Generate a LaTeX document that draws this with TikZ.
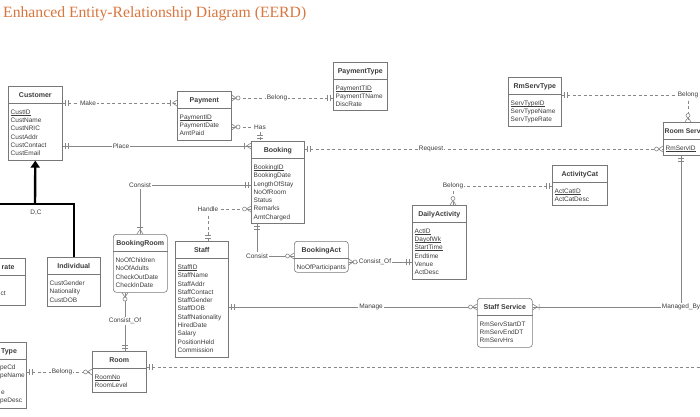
\documentclass[tikz,border=0pt]{standalone}
\usepackage{fontspec}
\setsansfont{Liberation Sans}
\newfontfamily\titlefont{Liberation Serif}
\usetikzlibrary{arrows.meta}

\definecolor{linegray}{RGB}{135,135,135}
\definecolor{boxgray}{RGB}{120,120,120}
\definecolor{textgray}{RGB}{60,60,60}
\definecolor{titleorange}{RGB}{217,118,62}

\newcommand{\attrfont}{\sffamily\fontsize{6.5}{8.3}\selectfont}
\newsavebox{\pkbox}
\newcommand{\pk}[1]{\sbox{\pkbox}{#1}\rlap{\rule[-1.1pt]{\wd\pkbox}{0.4pt}}\usebox{\pkbox}}
% [style]{name}{x,y of top left}{width}{height}{title}{attributes}
\newcommand{\entitybox}[7][entbox]{%
  \node[#1, minimum width=#4pt, minimum height=#5pt] (#2) at (#3) {};
  \draw[boxline] ([yshift=-17pt]#2.north west) -- ([yshift=-17pt]#2.north east);
  \node[enthead] (#2-head) at ([yshift=-11pt]#2.north) {#6};
  \node[entattr] (#2-attr) at ([xshift=2.5pt,yshift=-23.5pt]#2.north west) {#7};
}

\tikzset{
  entbox/.style={draw=boxgray, line width=0.6pt, anchor=north west, inner sep=0pt, fill=white},
  assoc/.style={entbox, rounded corners=3pt},
  boxline/.style={draw=boxgray, line width=0.6pt},
  enthead/.style={font=\sffamily\bfseries\fontsize{7}{8}\selectfont, text=textgray, anchor=base, inner sep=0pt},
  entattr/.style={font=\attrfont, text=textgray, anchor=north west, inner sep=0pt, align=left},
  rel/.style={font=\attrfont, text=textgray, fill=white, inner sep=1.2pt},
  sline/.style={draw=linegray, line width=0.6pt},
  dline/.style={sline, dash pattern=on 3pt off 2.5pt},
  isa/.style={draw=black, line width=2.4pt},
  mone/.pic={\draw[sline] (3pt,-3pt) -- (3pt,3pt) (5.5pt,-3pt) -- (5.5pt,3pt);},
  many1/.pic={\draw[sline] (0pt,3pt) -- (4.5pt,0pt) -- (0pt,-3pt) (6.5pt,-3pt) -- (6.5pt,3pt);},
  many0/.pic={\draw[sline] (0pt,3pt) -- (4.5pt,0pt) -- (0pt,-3pt);
              \draw[sline, fill=white] (6.5pt,0pt) circle (2pt);},
}

\begin{document}
\begin{tikzpicture}[x=1pt, y=-1pt]
  \path[use as bounding box, fill=white] (0,0) rectangle (700,416);
  \clip (0,0) rectangle (700,416);

  \node[anchor=base west, inner sep=0pt, text=titleorange,
        font=\titlefont\fontsize{15.7}{18}\selectfont] (title) at (3,17.3)
        {Enhanced Entity-Relationship Diagram (EERD)};

  % entities
  \entitybox{customer}{8,86}{54}{74}{Customer}{\pk{CustID}\\CustName\\CustNRIC\\CustAddr\\CustContact\\CustEmail}
  \entitybox{payment}{177,91}{54}{49}{Payment}{\pk{PaymentID}\\PaymentDate\\AmtPaid}
  \entitybox{paytype}{333,62}{54}{48}{PaymentType}{\pk{PaymentTID}\\PaymentTName\\DiscRate}
  \entitybox{booking}{251,141}{53}{82}{Booking}{\pk{BookingID}\\BookingDate\\LengthOfStay\\NoOfRoom\\Status\\Remarks\\AmtCharged}
  \entitybox{rmservtype}{508,77}{53}{49}{RmServType}{\pk{ServTypeID}\\ServTypeName\\ServTypeRate}
  \entitybox{roomservice}{663,122}{54}{33}{}{\pk{RmServID}}
  \node[enthead, anchor=base west, font=\sffamily\bfseries\fontsize{6.8}{8}\selectfont] (roomservice-part) at (664.5,133) {Room Serv};
  \entitybox{activitycat}{552,165}{55}{40}{ActivityCat}{\pk{ActCatID}\\ActCatDesc}
  \entitybox{dailyact}{412,205}{54}{74}{DailyActivity}{\pk{ActID}\\\pk{DayofWk}\\\pk{StartTime}\\Endtime\\Venue\\ActDesc}
  \entitybox[assoc]{bookingact}{294,241}{54}{31}{BookingAct}{NoOfParticipants}
  \entitybox[assoc]{staffservice}{477,298}{55}{49}{Staff Service}{RmServStartDT\\RmServEndDT\\RmServHrs}
  \entitybox[assoc]{bookingroom}{113,234}{54}{58}{BookingRoom}{NoOfChildren\\NoOfAdults\\CheckOutDate\\CheckInDate}
  \entitybox{staff}{175,241}{53}{116}{Staff}{\pk{StaffID}\\StaffName\\StaffAddr\\StaffContact\\StaffGender\\StaffDOB\\StaffNationality\\HiredDate\\Salary\\PositionHeld\\Commission}
  \entitybox{room}{92,351}{54}{41}{Room}{\pk{RoomNo}\\RoomLevel}
  \entitybox{individual}{47,257}{53}{49}{Individual}{CustGender\\Nationality\\CustDOB}

  % cut off at the left edge
  \node[entbox, minimum width=54pt, minimum height=47pt] (corporate) at (-29,258) {};
  \draw[boxline] ([yshift=-17pt]corporate.north west) -- ([yshift=-17pt]corporate.north east);
  \node[enthead, anchor=base east] (corporate-head) at (14.7,269) {rate};
  \node[entattr, anchor=base east] (corporate-attr) at (6,295) {ct};
  \node[entbox, minimum width=54pt, minimum height=66pt] (roomtype) at (-28,342) {};
  \draw[boxline] ([yshift=-17pt]roomtype.north west) -- ([yshift=-17pt]roomtype.north east);
  \node[enthead, anchor=base east] (roomtype-head) at (17.1,353) {Type};
  \foreach \txt/\xe/\yb [count=\i] in {peCd/15.8/369.3, peName/25/377.6, e/5/394.2, peDesc/22.4/402.5}
    \node[entattr, anchor=base east] (roomtype-a\i) at (\xe,\yb) {\txt};

  % generalisation
  \coordinate (isa) at (35,204);
  \draw[isa] (corporate.north) -- (corporate.north |- isa) -- (individual.north |- isa) -- (individual.north);
  \draw[isa, -{Triangle[width=9pt, length=7pt]}] (isa) -- (customer.south);
  \node[font=\attrfont, text=textgray] (dc) at (36,213) {D,C};

  % relationships
  \coordinate (make) at (88,103);
  \coordinate (belong1) at (277,98);
  \coordinate (has) at (260,127);
  \coordinate (place) at (121,146);
  \coordinate (request) at (431,149);
  \coordinate (consist1) at (140,185);
  \coordinate (handle) at (208,209);
  \coordinate (consist2) at (257,256);
  \coordinate (consistof2) at (375,262);
  \coordinate (belong3) at (453,186);
  \coordinate (belong4) at (688,95);
  \coordinate (manage) at (371,307);
  \coordinate (managedby) at (681,307);
  \coordinate (consistof1) at (125,321);
  \coordinate (belong5) at (62,372);
  \coordinate (roomout) at (700,367);

  \draw[dline] (customer.east |- make) -- (payment.west |- make);
  \draw[dline] (payment.east |- belong1) -- (paytype.west |- belong1);
  \draw[dline] (payment.east |- has) -- (has) -- (booking.north -| has);
  \draw[sline] (customer.east |- place) -- (booking.west |- place);
  \draw[dline] (booking.east |- request) -- (roomservice.west |- request);
  \draw[sline] (booking.west |- consist1) -- (consist1) -- (bookingroom.north -| consist1);
  \draw[dline] (booking.west |- handle) -- (handle) -- (staff.north -| handle);
  \draw[sline] (booking.south -| consist2) -- (consist2) -- (bookingact.west |- consist2);
  \draw[sline] (bookingact.east |- consistof2) -- (dailyact.west |- consistof2);
  \draw[dline] (dailyact.north -| belong3) -- (belong3) -- (activitycat.west |- belong3);
  \draw[dline] (rmservtype.east |- belong4) -- (belong4) -- (roomservice.north -| belong4);
  \draw[sline] (staff.east |- manage) -- (staffservice.west |- manage);
  \draw[sline] (staffservice.east |- managedby) -- (managedby) -- (roomservice.south -| managedby);
  \draw[sline] (bookingroom.south -| consistof1) -- (room.north -| consistof1);
  \draw[dline] (roomtype.east |- belong5) -- (room.west |- belong5);
  \draw[dline] (room.east |- roomout) -- (roomout);

  % cardinalities
  \pic at (customer.east |- make) {mone};
  \pic[rotate=180] at (payment.west |- make) {many1};
  \pic at (payment.east |- belong1) {many0};
  \pic[rotate=180] at (paytype.west |- belong1) {mone};
  \pic at (payment.east |- has) {many0};
  \pic[rotate=90] at (booking.north -| has) {mone};
  \pic at (customer.east |- place) {mone};
  \pic[rotate=180] at (booking.west |- place) {many1};
  \pic at (booking.east |- request) {mone};
  \pic[rotate=180] at (roomservice.west |- request) {many0};
  \pic[rotate=180] at (booking.west |- consist1) {mone};
  \pic[rotate=90] at (bookingroom.north -| consist1) {many1};
  \pic[rotate=180] at (booking.west |- handle) {many0};
  \pic[rotate=90] at (staff.north -| handle) {mone};
  \pic[rotate=-90] at (booking.south -| consist2) {mone};
  \pic[rotate=180] at (bookingact.west |- consist2) {many0};
  \pic at (bookingact.east |- consistof2) {many0};
  \pic[rotate=180] at (dailyact.west |- consistof2) {mone};
  \pic[rotate=90] at (dailyact.north -| belong3) {many0};
  \pic[rotate=180] at (activitycat.west |- belong3) {mone};
  \pic at (rmservtype.east |- belong4) {mone};
  \pic[rotate=90] at (roomservice.north -| belong4) {many0};
  \pic at (staff.east |- manage) {mone};
  \pic[rotate=180] at (staffservice.west |- manage) {many0};
  \pic at (staffservice.east |- managedby) {many1};
  \pic[rotate=-90] at (roomservice.south -| managedby) {mone};
  \pic[rotate=-90] at (bookingroom.south -| consistof1) {many0};
  \pic[rotate=90] at (room.north -| consistof1) {mone};
  \pic at (roomtype.east |- belong5) {mone};
  \pic[rotate=180] at (room.west |- belong5) {many0};
  \pic at (room.east |- roomout) {mone};

  % relationship names
  \node[rel] (make-l) at (make) {Make};
  \node[rel] (belong1-l) at (belong1) {Belong};
  \node[rel] (has-l) at (has) {Has};
  \node[rel] (place-l) at (place) {Place};
  \node[rel] (request-l) at (request) {Request};
  \node[rel] (consist1-l) at (consist1) {Consist};
  \node[rel] (handle-l) at (handle) {Handle};
  \node[rel] (consist2-l) at (consist2) {Consist};
  \node[rel] (consistof2-l) at (consistof2) {Consist\_Of};
  \node[rel] (belong3-l) at (belong3) {Belong};
  \node[rel] (belong4-l) at (belong4) {Belong};
  \node[rel] (manage-l) at (manage) {Manage};
  \node[rel] (managedby-l) at (managedby) {Managed\_By};
  \node[rel] (consistof1-l) at (consistof1) {Consist\_Of};
  \node[rel] (belong5-l) at (belong5) {Belong};
\end{tikzpicture}
\end{document}
